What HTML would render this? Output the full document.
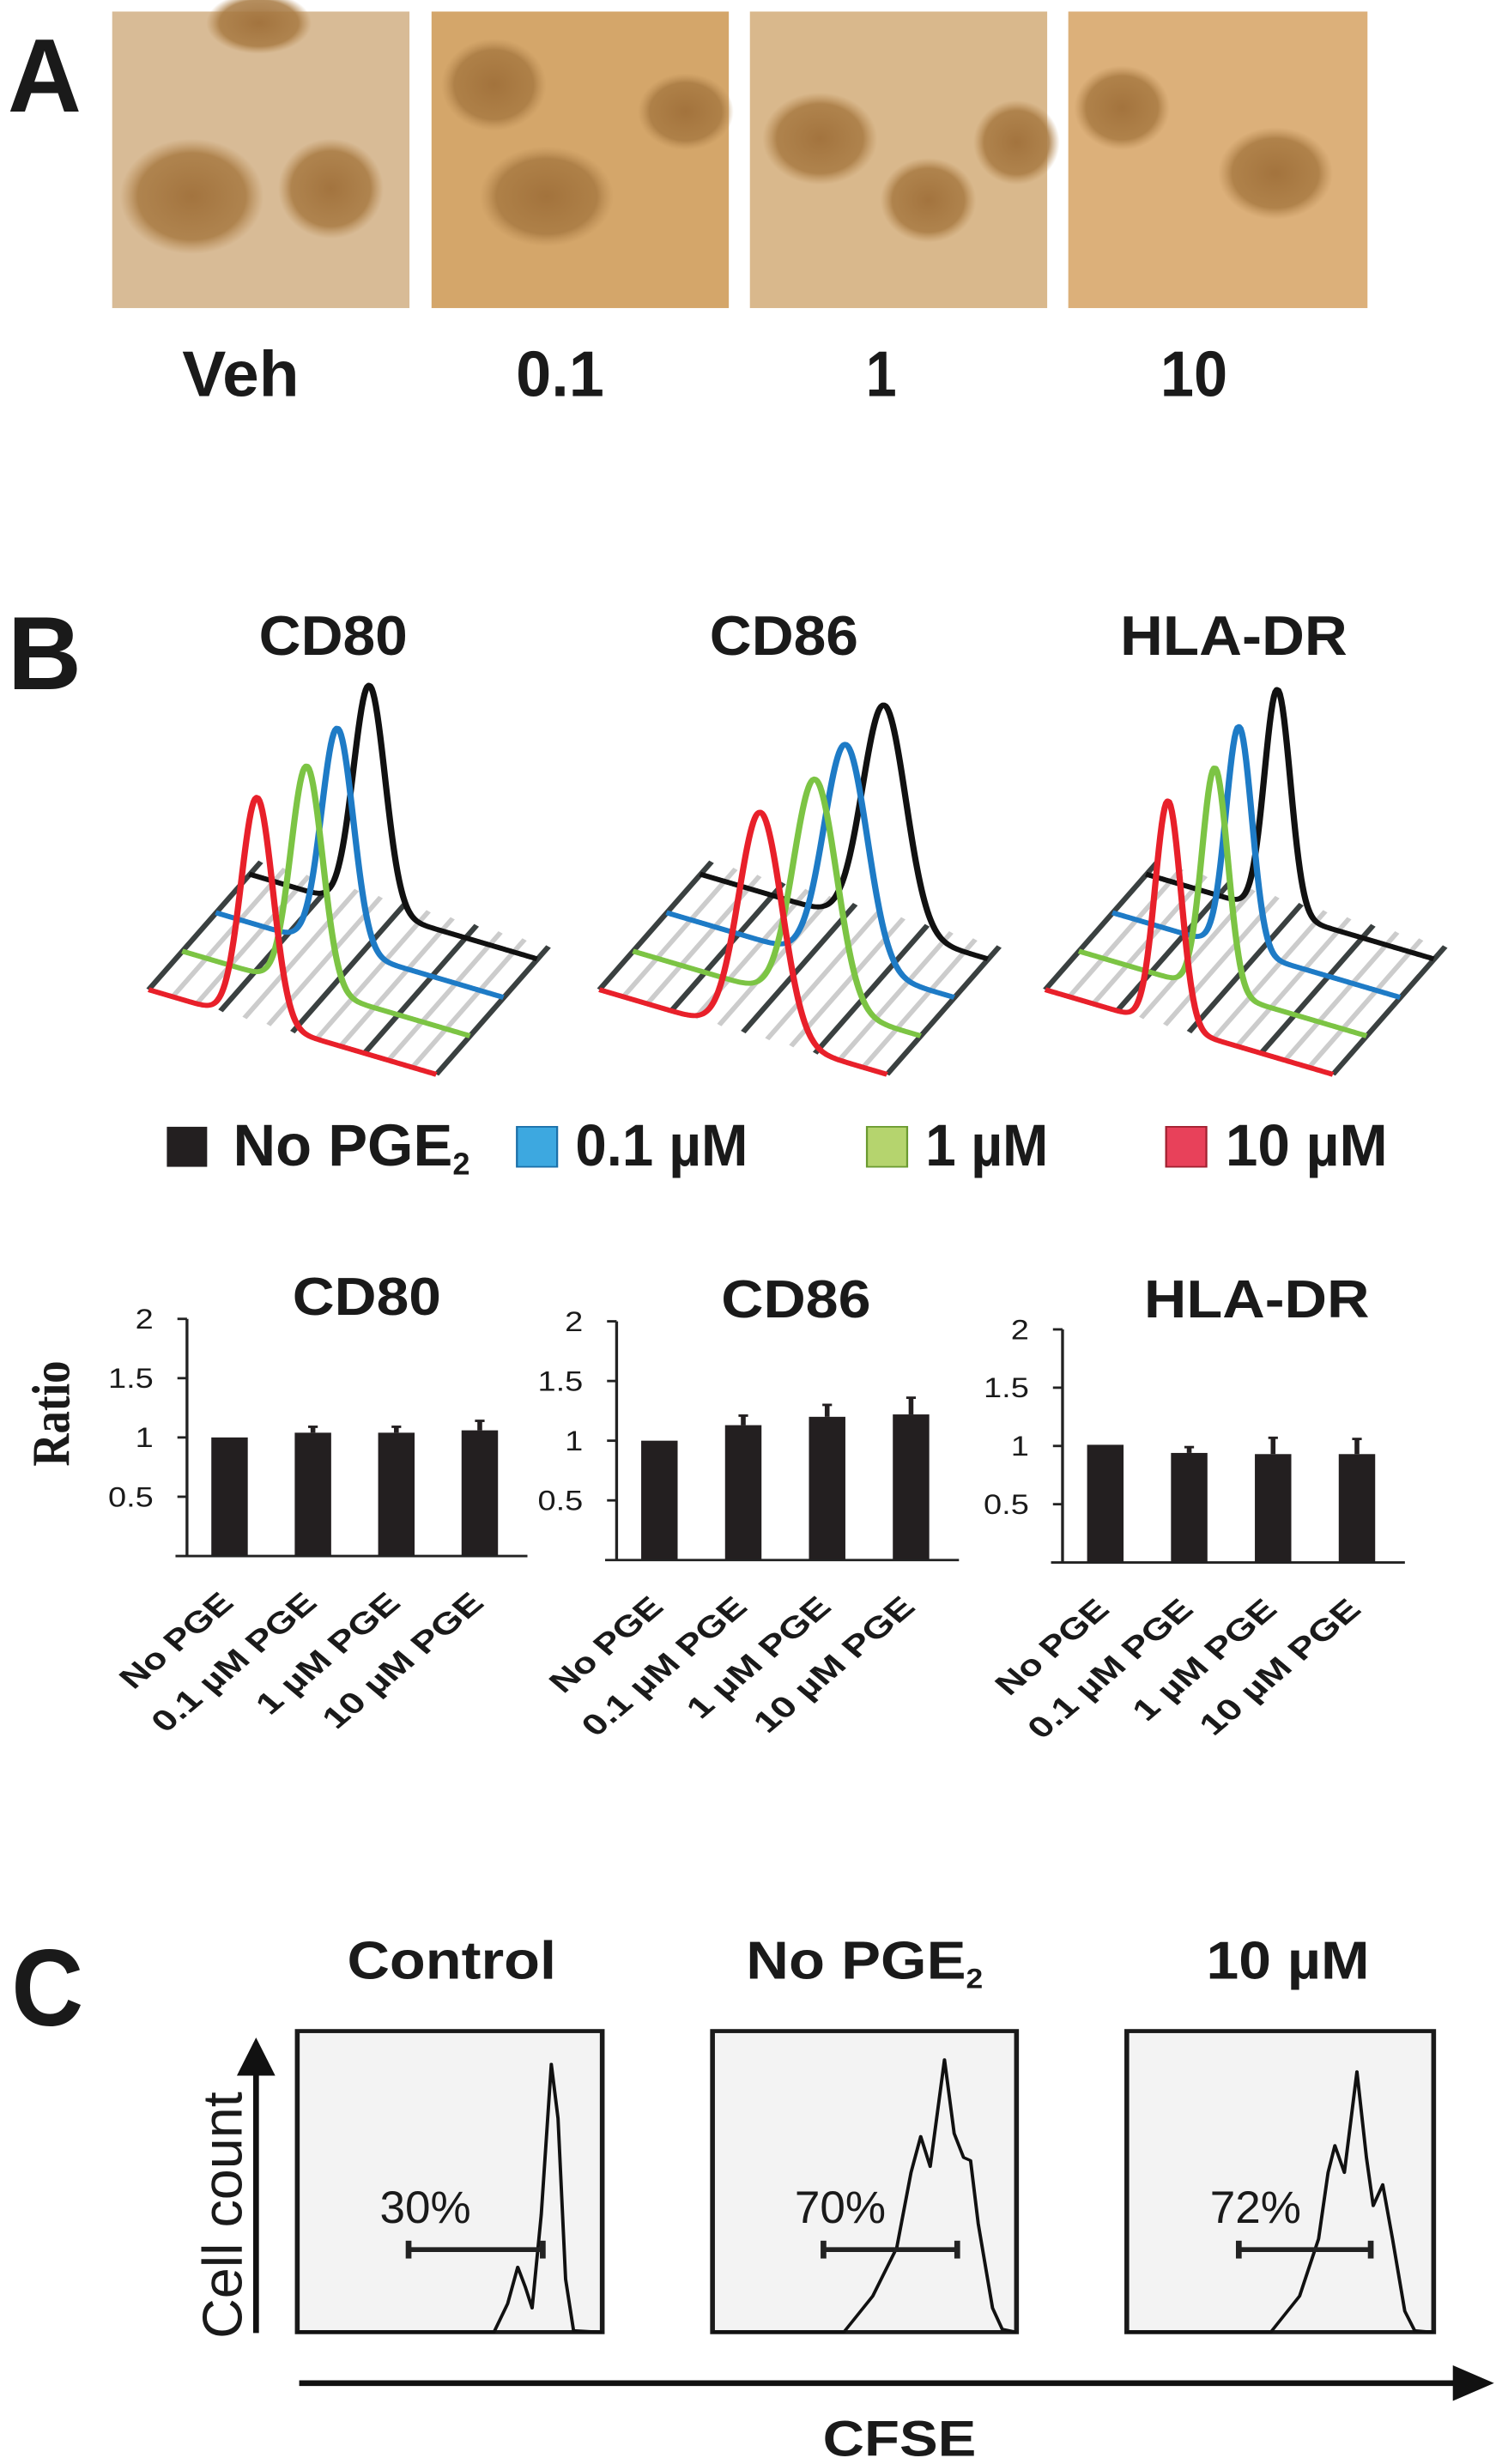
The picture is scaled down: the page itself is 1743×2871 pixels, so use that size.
<!DOCTYPE html>
<html><head><meta charset="utf-8">
<style>
html,body{margin:0;padding:0;background:#fff;}
svg{display:block;}
text{font-family:"Liberation Sans Narrow","Liberation Sans",sans-serif;font-weight:bold;fill:#1a1a1a;}
</style></head>
<body>
<svg id="fig" xmlns="http://www.w3.org/2000/svg" width="1743" height="2871" viewBox="0 0 1743 2871">
<defs>
<radialGradient id="blob"><stop offset="0" stop-color="#a0703a" stop-opacity="0.95"/><stop offset="0.75" stop-color="#a87a42" stop-opacity="0.85"/><stop offset="1" stop-color="#b88a52" stop-opacity="0"/></radialGradient>
</defs>
<g transform="scale(1.1173,0.8974)">
<!-- Panel A -->
<text x="8" y="145" font-size="135" textLength="77" lengthAdjust="spacingAndGlyphs" style="font-family:'Liberation Sans',sans-serif">A</text>
<g>
<rect x="117" y="15" width="310" height="385" fill="#d8bb96"/>
<ellipse cx="200" cy="255" rx="75" ry="75" fill="url(#blob)"/><ellipse cx="345" cy="245" rx="55" ry="65" fill="url(#blob)"/><ellipse cx="270" cy="30" rx="55" ry="40" fill="url(#blob)"/></g>
<g>
<rect x="450" y="15" width="310" height="385" fill="#d4a66a"/>
<ellipse cx="515" cy="110" rx="55" ry="60" fill="url(#blob)"/><ellipse cx="570" cy="255" rx="70" ry="65" fill="url(#blob)"/><ellipse cx="715" cy="145" rx="50" ry="50" fill="url(#blob)"/></g>
<g>
<rect x="782" y="15" width="310" height="385" fill="#d9b88c"/>
<ellipse cx="855" cy="180" rx="60" ry="60" fill="url(#blob)"/><ellipse cx="968" cy="260" rx="50" ry="55" fill="url(#blob)"/><ellipse cx="1060" cy="185" rx="45" ry="55" fill="url(#blob)"/></g>
<g>
<rect x="1114" y="15" width="312" height="385" fill="#dcb07a"/>
<ellipse cx="1170" cy="140" rx="50" ry="55" fill="url(#blob)"/><ellipse cx="1330" cy="225" rx="60" ry="60" fill="url(#blob)"/></g>
<g font-size="84">
<text x="190" y="514" textLength="122" lengthAdjust="spacingAndGlyphs">Veh</text>
<text x="538" y="514" textLength="92" lengthAdjust="spacingAndGlyphs">0.1</text>
<text x="903" y="514" textLength="32" lengthAdjust="spacingAndGlyphs">1</text>
<text x="1210" y="514" textLength="70" lengthAdjust="spacingAndGlyphs">10</text>
</g>
<!-- Panel B -->
<text x="8" y="895" font-size="135" textLength="77" lengthAdjust="spacingAndGlyphs" style="font-family:'Liberation Sans',sans-serif">B</text>
<g font-size="72">
<text x="270" y="850" textLength="155" lengthAdjust="spacingAndGlyphs">CD80</text>
<text x="740" y="850" textLength="155" lengthAdjust="spacingAndGlyphs">CD86</text>
<text x="1168" y="850" textLength="237" lengthAdjust="spacingAndGlyphs">HLA-DR</text>
</g>
<g id="hists"></g>
<g font-size="76">
<rect x="174" y="1463" width="42" height="52" fill="#231f20"/>
<text x="243" y="1513" textLength="247" lengthAdjust="spacingAndGlyphs">No PGE<tspan font-size="40" dy="12">2</tspan></text>
<rect x="539" y="1463" width="42" height="52" fill="#3da8e0" stroke="#1a6fa8" stroke-width="2"/>
<text x="600" y="1513" textLength="180" lengthAdjust="spacingAndGlyphs">0.1 µM</text>
<rect x="904" y="1463" width="42" height="52" fill="#b5d46e" stroke="#6a9a30" stroke-width="2"/>
<text x="965" y="1513" textLength="128" lengthAdjust="spacingAndGlyphs">1 µM</text>
<rect x="1216" y="1463" width="42" height="52" fill="#e8415a" stroke="#a02030" stroke-width="2"/>
<text x="1278" y="1513" textLength="169" lengthAdjust="spacingAndGlyphs">10 µM</text>
</g>
</g>
<g transform="translate(0,1400) scale(1.1173,0.943)">
<text transform="translate(72,262) rotate(-90)" text-anchor="middle" font-size="56" style="font-family:'Liberation Serif',serif">Ratio</text>
<g id="bars"></g>
<!-- Panel C -->
<text x="12" y="1018" font-size="135" textLength="75" lengthAdjust="spacingAndGlyphs" style="font-family:'Liberation Sans',sans-serif">C</text>
<g font-size="66" style="font-weight:normal">
<text x="362" y="960" textLength="218" lengthAdjust="spacingAndGlyphs">Control</text>
<text x="778" y="960" textLength="247" lengthAdjust="spacingAndGlyphs">No PGE<tspan font-size="34" dy="12">2</tspan></text>
<text x="1258" y="960" textLength="170" lengthAdjust="spacingAndGlyphs">10 µM</text>
</g>
<text transform="translate(252,1405) rotate(-90)" font-size="58" textLength="305" lengthAdjust="spacingAndGlyphs" style="font-weight:normal">Cell count</text>
<line x1="267" y1="1398" x2="267" y2="1075" stroke="#111" stroke-width="6"/>
<polygon points="247,1080 287,1080 267,1033" fill="#111"/>
<line x1="312" y1="1460" x2="1520" y2="1460" stroke="#111" stroke-width="7"/>
<polygon points="1515,1438 1515,1482 1558,1460" fill="#111"/>
<text x="858" y="1550" font-size="62" textLength="160" lengthAdjust="spacingAndGlyphs">CFSE</text>
<g id="cfse"></g>
</g>
</svg>
<script>
const NS="http://www.w3.org/2000/svg";
function mk(tag,attrs,parent){const e=document.createElementNS(NS,tag);for(const k in attrs)e.setAttribute(k,attrs[k]);parent.appendChild(e);return e;}

// ---- 3D histograms data ----
const histPanels=["CD80","CD86","HLA-DR"];
const histSeries=["No PGE2","0.1 uM","1 uM","10 uM"];
const peakPosCD80=[0.417,0.423,0.433,0.377];
const peakPosCD86=[0.64,0.623,0.633,0.56];
const peakPosHLA=[0.457,0.44,0.473,0.427];
const peakHeightCD80=[291,286,288,291];
const peakHeightCD86=[290,287,293,292];
const peakHeightHLA=[290,290,290,292];
const peakWidth=[0.055,0.075,0.045];
const seriesColors=["#111111","#1e7bc6","#7cc444","#e8202a"];
const panelOrigins=[[155,1285],[625,1285],[1090,1285]];
const rowVec=[300,110], depthVec=[35,-50];
const hg=document.getElementById('hists');
const posArr=[peakPosCD80,peakPosCD86,peakPosHLA], htArr=[peakHeightCD80,peakHeightCD86,peakHeightHLA];
histPanels.forEach((pn,p)=>{
  const g=mk('g',{},hg);
  
  
  const [ox,oy]=panelOrigins[p];
  for(let k=0;k<=12;k++){
    const t=k/12, x=ox+t*rowVec[0], y=oy+t*rowVec[1];
    const l=mk('line',{x1:x,y1:y,x2:x+3*depthVec[0]+12,y2:y+3*depthVec[1]-16,stroke:k%3===0?'#3a4040':'#cccccc','stroke-width':k%3===0?6:5.5},g);
    
    
  }
  for(let s=0;s<4;s++){
    const bx=ox+(3-s)*depthVec[0], by=oy+(3-s)*depthVec[1];
    const mu=posArr[p][s], h=htArr[p][s], sg=peakWidth[p];
    let d='';
    for(let i=0;i<=200;i++){const t=i/200;const x=bx+t*rowVec[0];const y=by+t*rowVec[1]-h*Math.exp(-Math.pow(t-mu,2)/(2*sg*sg));d+=(i?'L':'M')+x.toFixed(1)+','+y.toFixed(1);}
    const path=mk('path',{d:d,fill:'none',stroke:seriesColors[s],'stroke-width':6.5,'stroke-linejoin':'round'},g);
    
    
  }
});

// ---- bar charts data ----
const barCategories=["No PGE","0.1 µM PGE","1 µM PGE","10 µM PGE"];
const yTicks=[0.5,1,1.5,2];
const valuesCD80=[1.0,1.04,1.04,1.06];
const errorsCD80=[0,0.05,0.05,0.08];
const valuesCD86=[1.0,1.13,1.2,1.22];
const errorsCD86=[0,0.08,0.1,0.14];
const valuesHLA=[1.01,0.94,0.93,0.93];
const errorsHLA=[0,0.05,0.14,0.13];
const labelLen=[150,226,195,220];
const barCharts=[
 {name:'cd80',title:'CD80',vals:valuesCD80,errs:errorsCD80,ax:195,top:145,zero:438,right:550,tx:305,ty:140,tw:155},
 {name:'cd86',title:'CD86',vals:valuesCD86,errs:errorsCD86,ax:643,top:148,zero:443,right:1000,tx:752,ty:143,tw:156},
 {name:'hla-dr',title:'HLA-DR',vals:valuesHLA,errs:errorsHLA,ax:1108,top:158,zero:446,right:1465,tx:1193,ty:143,tw:235}];
const bg=document.getElementById('bars');
barCharts.forEach(c=>{
  const g=mk('g',{},bg);
  
  
  const yS=v=>c.zero-(c.zero-c.top)*v/2;
  const plotW=c.right-c.ax;
  const xS=i=>c.ax+plotW*(0.125+i*0.245);
  const t=mk('text',{x:c.tx,y:c.ty,'font-size':66,textLength:c.tw,lengthAdjust:'spacingAndGlyphs'},g);t.textContent=c.title;
  
  
  c.vals.forEach((v,i)=>{
    const cx=xS(i), w=38;
    const r=mk('rect',{x:cx-w/2,y:yS(v),width:w,height:c.zero-yS(v),fill:'#231f20'},g);
    
    
    if(c.errs[i]>0){
      const e=mk('line',{x1:cx,x2:cx,y1:yS(v),y2:yS(v+c.errs[i]),stroke:'#231f20','stroke-width':5},g);
      
      
      mk('line',{x1:cx-5,x2:cx+5,y1:yS(v+c.errs[i]),y2:yS(v+c.errs[i]),stroke:'#231f20','stroke-width':3},g);
    }
    const lb=mk('text',{transform:`translate(${cx+6},${c.zero+60}) rotate(-45)`,'text-anchor':'end','font-size':36,textLength:labelLen[i],lengthAdjust:'spacingAndGlyphs',style:"font-family:'Liberation Sans',sans-serif"},g);
    lb.textContent=barCategories[i];
    
    
  });
  const ya=mk('line',{x1:c.ax,x2:c.ax,y1:c.top,y2:c.zero,stroke:'#222','stroke-width':3},g);
  
  
  const xa=mk('line',{x1:c.ax-12,x2:c.right,y1:c.zero,y2:c.zero,stroke:'#222','stroke-width':3},g);
  
  
  yTicks.forEach(v=>{
    mk('line',{x1:c.ax-10,x2:c.ax,y1:yS(v),y2:yS(v),stroke:'#222','stroke-width':3},g);
    const tl=mk('text',{x:c.ax-35,y:yS(v)+12,'text-anchor':'end','font-size':34,style:'font-weight:normal'},g);
    tl.textContent=String(v);
    
    
  });
});

// ---- CFSE histograms data (x: % of box width, y: % of box height) ----
const cfseNames=["control","no-pge","10um"];
const controlX=[0,64.5,69,72.3,74.8,77,80,83.3,85.5,88,90.6,100];
const controlY=[0,0,9.5,21.6,14.9,8,39,89,71,17.6,0.5,0];
const noPgeX=[0,43.2,52.7,60.6,65.3,68.5,71.6,76.3,79.5,82.6,84.9,87.4,92.1,95.3,100];
const noPgeY=[0,0,12,28,53,65,55,90.5,66,58,57,36,8,1,0];
const tenX=[0,46.9,56.3,62.5,65.6,67.8,70.9,75,78.1,80.3,83.4,86.6,90.6,93.8,100];
const tenY=[0,0,12,31,53,62,53,86.5,58,42,49,31,7,0.5,0];
const gatePct=["30%","70%","72%"];
const gateStart=[36.5,36.5,36.5];
const gateEnd=[80.5,80.5,79.5];
const cfseBoxes=[[310,628],[743,1060],[1175,1495]];
const cfX=[controlX,noPgeX,tenX], cfY=[controlY,noPgeY,tenY];
const cg=document.getElementById('cfse');
cfseBoxes.forEach((b,i)=>{
  const g=mk('g',{},cg);
  
  
  const top=1025,bot=1397,w=b[1]-b[0];
  mk('rect',{x:b[0],y:top,width:w,height:bot-top,fill:'#f3f3f3',stroke:'#1a1a1a','stroke-width':5},g);
  const xs=v=>b[0]+w*v/100, ys=v=>bot-(bot-top)*v/100;
  const pts=cfX[i].map((x,j)=>xs(x).toFixed(1)+','+ys(cfY[i][j]).toFixed(1)).join(' ');
  const pl=mk('polyline',{points:pts,fill:'none',stroke:'#111','stroke-width':3.5,'stroke-linejoin':'round'},g);
  
  
  const gy=1295, gx1=xs(gateStart[i]), gx2=xs(gateEnd[i]);
  const gl=mk('line',{x1:gx1,x2:gx2,y1:gy,y2:gy,stroke:'#222','stroke-width':6},g);
  
  
  mk('line',{x1:gx1,x2:gx1,y1:gy-11,y2:gy+11,stroke:'#222','stroke-width':6},g);
  mk('line',{x1:gx2,x2:gx2,y1:gy-11,y2:gy+11,stroke:'#222','stroke-width':6},g);
  const pt=mk('text',{x:gx1-30,y:1262,'font-size':56,textLength:95,lengthAdjust:'spacingAndGlyphs',style:'font-weight:normal'},g);
  pt.textContent=gatePct[i];
  
  
});
</script>
</body></html>
